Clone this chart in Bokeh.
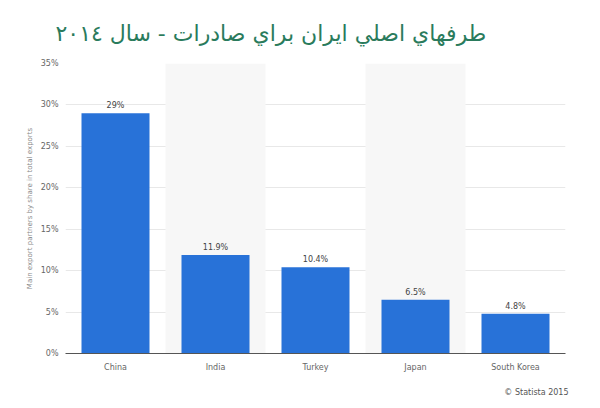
from bokeh.plotting import figure
from bokeh.models import FactorRange, Range1d, FixedTicker, PrintfTickFormatter, ColumnDataSource, Title
from bokeh.embed import file_html
from bokeh.resources import INLINE

categories = ["China", "India", "Turkey", "Japan", "South Korea"]
shares = [29.0, 11.9, 10.4, 6.5, 4.8]
value_labels = ["29%", "11.9%", "10.4%", "6.5%", "4.8%"]
y_ticks = [0, 5, 10, 15, 20, 25, 30, 35]
title_text = "طرفهاي اصلي  ايران براي صادرات - سال ٢٠١٤"
y_label = "Main export partners by share in total exports"
credit = "© Statista 2015"

p = figure(width=600, height=408, x_range=FactorRange(*categories, range_padding=0),
           y_range=Range1d(0, 35), output_backend="svg", toolbar_location=None,
           min_border_left=65, min_border_right=35, min_border_top=63, min_border_bottom=55)
p.outline_line_color = None
p.background_fill_color = "white"
p.border_fill_color = "white"

p.title = Title(text=title_text, align="left", offset=-10, text_font_size="22px", text_color="#2a7b5c",
                text_font="DejaVu Sans", text_font_style="normal", standoff=36)

band_cats = categories[1::2]
p.vbar(x=band_cats, top=[35] * len(band_cats), width=1.0, fill_color="#f7f7f7", line_color=None)

src = ColumnDataSource(dict(x=categories, top=shares, lab=value_labels))
p.vbar(x="x", top="top", width=0.68, source=src, fill_color="#2872d8", line_color=None)
p.text(x="x", y="top", text="lab", source=src, text_align="center", text_baseline="bottom",
       y_offset=-3, text_font_size="8px", text_color="#444444", text_font={"value": "DejaVu Sans"})

p.xgrid.grid_line_color = None
p.ygrid.grid_line_color = "#e8e8e8"
p.ygrid.ticker = FixedTicker(ticks=y_ticks)

p.yaxis.ticker = FixedTicker(ticks=y_ticks)
p.yaxis.formatter = PrintfTickFormatter(format="%d%%")
p.yaxis.axis_line_color = None
p.yaxis.major_tick_line_color = None
p.yaxis.major_tick_out = 0
p.yaxis.minor_tick_line_color = None
p.yaxis.minor_tick_out = 0
p.yaxis.major_label_text_font_size = "8px"
p.yaxis.major_label_text_color = "#666666"
p.yaxis.major_label_text_font = "DejaVu Sans"
p.yaxis.major_label_standoff = 7
p.yaxis.axis_label = y_label
p.yaxis.axis_label_text_font_size = "7px"
p.yaxis.axis_label_text_font_style = "normal"
p.yaxis.axis_label_text_color = "#888888"
p.yaxis.axis_label_text_font = "DejaVu Sans"
p.yaxis.axis_label_standoff = 4

p.xaxis.axis_line_color = "#555555"
p.xaxis.axis_line_width = 1
p.xaxis.major_tick_line_color = None
p.xaxis.major_tick_out = 0
p.xaxis.minor_tick_line_color = None
p.xaxis.minor_tick_out = 0
p.xaxis.major_label_text_font_size = "8px"
p.xaxis.major_label_text_color = "#666666"
p.xaxis.major_label_text_font = "DejaVu Sans"
p.xaxis.major_label_standoff = 9

p.add_layout(Title(text=credit, align="right", offset=-3, text_font_size="8px", text_color="#555555",
                   text_font="DejaVu Sans", text_font_style="normal", standoff=23), "below")

open("out.html", "w").write(file_html(p, INLINE))
